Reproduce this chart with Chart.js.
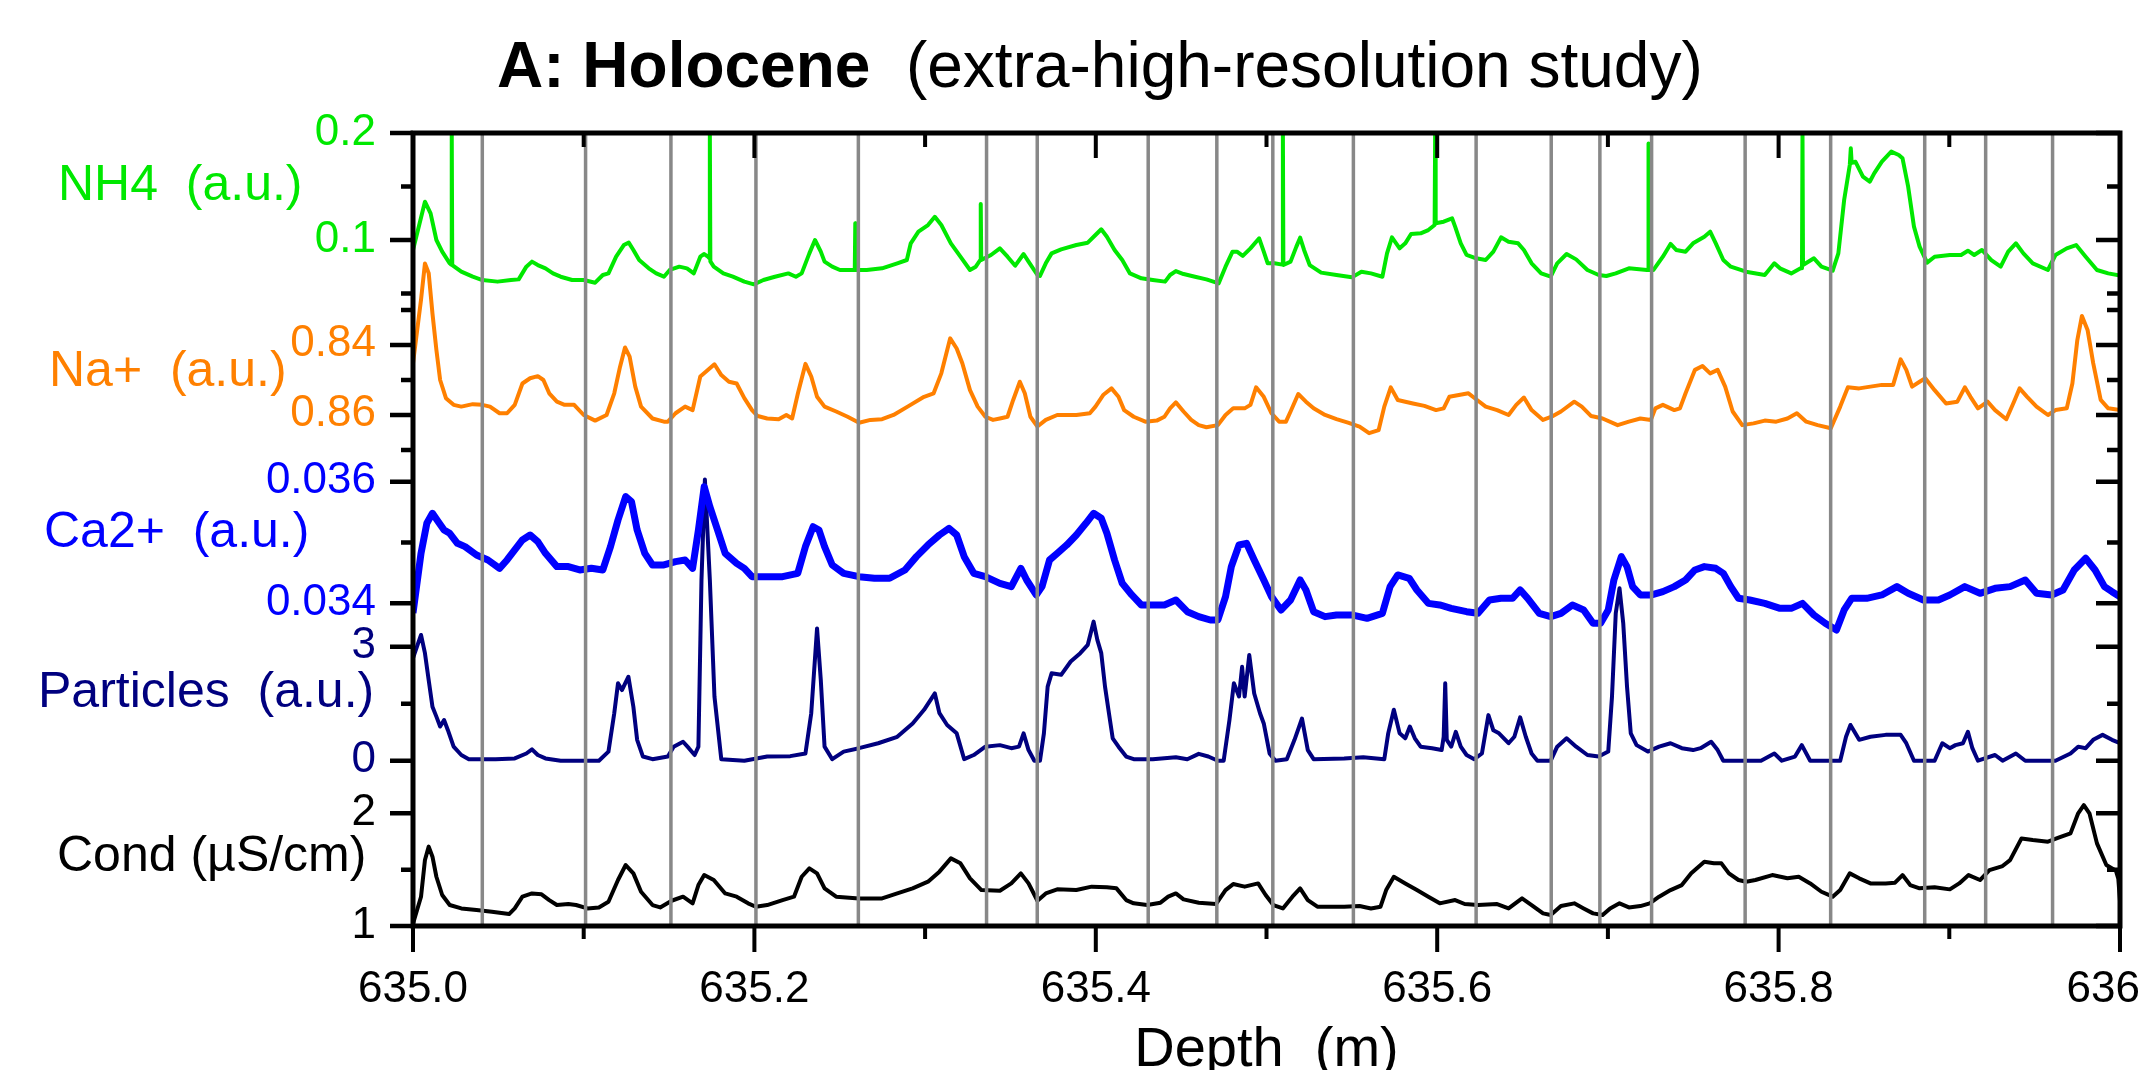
<!DOCTYPE html>
<html>
<head>
<meta charset="utf-8">
<script src="https://cdn.jsdelivr.net/npm/chart.js@4.4.0/dist/chart.umd.min.js"></script>
<style>
  html, body { margin: 0; padding: 0; background: #fff; }
</style>
</head>
<body>
<canvas id="chart" width="2142" height="1070"></canvas>
<script>
// depth (m), value pairs
const nh4 = [[635.0000,0.0907],[635.0070,0.1358],[635.0103,0.1249],[635.0137,0.1000],[635.0171,0.0891],[635.0215,0.0782],[635.0224,0.0770],[635.0227,0.2000],[635.0230,0.0766],[635.0283,0.0704],[635.0350,0.0657],[635.0406,0.0626],[635.0495,0.0611],[635.0574,0.0626],[635.0619,0.0632],[635.0664,0.0751],[635.0697,0.0798],[635.0731,0.0766],[635.0776,0.0735],[635.0820,0.0688],[635.0865,0.0657],[635.0932,0.0626],[635.1000,0.0626],[635.1067,0.0601],[635.1112,0.0673],[635.1145,0.0688],[635.1190,0.0844],[635.1235,0.0953],[635.1264,0.0975],[635.1291,0.0907],[635.1325,0.0813],[635.1381,0.0735],[635.1425,0.0688],[635.1470,0.0657],[635.1504,0.0720],[635.1560,0.0751],[635.1605,0.0735],[635.1645,0.0688],[635.1683,0.0844],[635.1706,0.0869],[635.1728,0.0844],[635.1736,0.0830],[635.1739,0.2000],[635.1742,0.0800],[635.1762,0.0751],[635.1818,0.0688],[635.1874,0.0657],[635.1941,0.0611],[635.1997,0.0586],[635.2053,0.0626],[635.2120,0.0657],[635.2199,0.0688],[635.2243,0.0657],[635.2277,0.0688],[635.2322,0.0875],[635.2355,0.1000],[635.2389,0.0891],[635.2411,0.0798],[635.2456,0.0751],[635.2501,0.0720],[635.2588,0.0720],[635.2591,0.1156],[635.2594,0.0720],[635.2658,0.0720],[635.2748,0.0735],[635.2837,0.0782],[635.2893,0.0813],[635.2916,0.0969],[635.2961,0.1078],[635.3017,0.1140],[635.3057,0.1217],[635.3095,0.1140],[635.3151,0.0969],[635.3207,0.0844],[635.3263,0.0720],[635.3297,0.0751],[635.3323,0.0813],[635.3326,0.1336],[635.3329,0.0813],[635.3386,0.0860],[635.3438,0.0922],[635.3483,0.0844],[635.3528,0.0760],[635.3577,0.0869],[635.3606,0.0798],[635.3658,0.0673],[635.3673,0.0664],[635.3707,0.0782],[635.3741,0.0875],[635.3797,0.0913],[635.3886,0.0953],[635.3953,0.0975],[635.3998,0.1047],[635.4032,0.1100],[635.4065,0.1031],[635.4110,0.0907],[635.4155,0.0813],[635.4200,0.0688],[635.4267,0.0642],[635.4334,0.0626],[635.4406,0.0611],[635.4435,0.0673],[635.4469,0.0710],[635.4514,0.0682],[635.4581,0.0657],[635.4648,0.0632],[635.4720,0.0595],[635.4760,0.0751],[635.4801,0.0891],[635.4827,0.0891],[635.4861,0.0851],[635.4906,0.0922],[635.4957,0.1016],[635.4984,0.0891],[635.5007,0.0782],[635.5047,0.0782],[635.5093,0.0770],[635.5096,0.2000],[635.5099,0.0766],[635.5141,0.0798],[635.5175,0.0938],[635.5197,0.1022],[635.5220,0.0907],[635.5253,0.0766],[635.5320,0.0695],[635.5410,0.0673],[635.5500,0.0651],[635.5556,0.0704],[635.5612,0.0688],[635.5679,0.0657],[635.5706,0.0875],[635.5735,0.1025],[635.5780,0.0922],[635.5813,0.0969],[635.5847,0.1056],[635.5903,0.1062],[635.5948,0.1093],[635.5985,0.1140],[635.5988,0.2000],[635.5991,0.1156],[635.6038,0.1171],[635.6087,0.1203],[635.6105,0.1125],[635.6138,0.0969],[635.6172,0.0860],[635.6228,0.0829],[635.6284,0.0813],[635.6329,0.0891],[635.6374,0.1025],[635.6418,0.0984],[635.6474,0.0969],[635.6508,0.0907],[635.6553,0.0782],[635.6609,0.0688],[635.6665,0.0657],[635.6703,0.0782],[635.6758,0.0869],[635.6814,0.0819],[635.6880,0.0720],[635.6946,0.0673],[635.6991,0.0664],[635.7046,0.0688],[635.7123,0.0735],[635.7229,0.0720],[635.7235,0.0720],[635.7238,0.1903],[635.7241,0.0720],[635.7267,0.0720],[635.7322,0.0844],[635.7367,0.0963],[635.7400,0.0907],[635.7455,0.0891],[635.7499,0.0969],[635.7565,0.1031],[635.7599,0.1078],[635.7632,0.0969],[635.7676,0.0813],[635.7720,0.0751],[635.7809,0.0704],[635.7919,0.0673],[635.7975,0.0782],[635.8008,0.0735],[635.8074,0.0688],[635.8129,0.0735],[635.8137,0.0735],[635.8140,0.2000],[635.8143,0.0766],[635.8207,0.0829],[635.8251,0.0751],[635.8317,0.0713],[635.8350,0.0875],[635.8384,0.1374],[635.8417,0.1701],[635.8423,0.1857],[635.8428,0.1720],[635.8450,0.1732],[635.8494,0.1592],[635.8534,0.1545],[635.8560,0.1623],[635.8605,0.1732],[635.8660,0.1826],[635.8704,0.1794],[635.8726,0.1763],[635.8759,0.1498],[635.8793,0.1125],[635.8826,0.0938],[635.8870,0.0788],[635.8914,0.0844],[635.9003,0.0860],[635.9069,0.0860],[635.9109,0.0900],[635.9146,0.0860],[635.9191,0.0907],[635.9246,0.0813],[635.9301,0.0751],[635.9345,0.0891],[635.9390,0.0969],[635.9434,0.0875],[635.9489,0.0782],[635.9578,0.0720],[635.9622,0.0860],[635.9688,0.0922],[635.9743,0.0953],[635.9799,0.0844],[635.9865,0.0720],[635.9931,0.0688],[636.0000,0.0667]];

const na = [[635.0000,0.8452],[635.0047,0.8271],[635.0070,0.8167],[635.0092,0.8195],[635.0114,0.8310],[635.0137,0.8414],[635.0159,0.8500],[635.0193,0.8552],[635.0238,0.8571],[635.0283,0.8576],[635.0350,0.8569],[635.0406,0.8571],[635.0451,0.8576],[635.0507,0.8595],[635.0551,0.8595],[635.0596,0.8571],[635.0641,0.8510],[635.0686,0.8495],[635.0731,0.8489],[635.0764,0.8500],[635.0798,0.8538],[635.0843,0.8562],[635.0888,0.8571],[635.0944,0.8571],[635.1000,0.8600],[635.1067,0.8616],[635.1134,0.8600],[635.1179,0.8538],[635.1213,0.8462],[635.1242,0.8407],[635.1269,0.8433],[635.1302,0.8519],[635.1336,0.8576],[635.1403,0.8610],[635.1470,0.8619],[635.1493,0.8619],[635.1538,0.8595],[635.1594,0.8576],[635.1638,0.8586],[635.1683,0.8490],[635.1717,0.8476],[635.1766,0.8455],[635.1806,0.8486],[635.1851,0.8505],[635.1896,0.8510],[635.1941,0.8552],[635.1986,0.8586],[635.2019,0.8603],[635.2075,0.8610],[635.2142,0.8612],[635.2187,0.8600],[635.2221,0.8610],[635.2255,0.8538],[635.2299,0.8454],[635.2333,0.8490],[635.2367,0.8548],[635.2411,0.8576],[635.2479,0.8590],[635.2546,0.8605],[635.2613,0.8622],[635.2680,0.8614],[635.2748,0.8612],[635.2815,0.8600],[635.2905,0.8574],[635.2994,0.8548],[635.3050,0.8538],[635.3095,0.8481],[635.3147,0.8381],[635.3185,0.8410],[635.3218,0.8452],[635.3263,0.8529],[635.3308,0.8576],[635.3353,0.8605],[635.3398,0.8614],[635.3438,0.8610],[635.3483,0.8605],[635.3516,0.8557],[635.3555,0.8505],[635.3584,0.8538],[635.3617,0.8605],[635.3658,0.8633],[635.3707,0.8614],[635.3774,0.8600],[635.3886,0.8600],[635.3965,0.8595],[635.3998,0.8576],[635.4043,0.8543],[635.4092,0.8524],[635.4133,0.8548],[635.4166,0.8586],[635.4222,0.8605],[635.4290,0.8619],[635.4357,0.8616],[635.4402,0.8605],[635.4435,0.8581],[635.4469,0.8564],[635.4514,0.8590],[635.4559,0.8614],[635.4603,0.8629],[635.4648,0.8635],[635.4715,0.8629],[635.4760,0.8600],[635.4805,0.8581],[635.4872,0.8581],[635.4906,0.8571],[635.4939,0.8521],[635.4984,0.8548],[635.5029,0.8595],[635.5074,0.8619],[635.5114,0.8619],[635.5141,0.8590],[635.5186,0.8540],[635.5231,0.8562],[635.5276,0.8581],[635.5343,0.8600],[635.5410,0.8612],[635.5477,0.8622],[635.5545,0.8633],[635.5601,0.8652],[635.5657,0.8643],[635.5690,0.8576],[635.5728,0.8521],[635.5769,0.8557],[635.5813,0.8562],[635.5858,0.8567],[635.5925,0.8574],[635.5993,0.8586],[635.6038,0.8581],[635.6071,0.8548],[635.6127,0.8543],[635.6183,0.8538],[635.6228,0.8555],[635.6284,0.8576],[635.6351,0.8586],[635.6418,0.8600],[635.6463,0.8571],[635.6508,0.8550],[635.6553,0.8586],[635.6620,0.8614],[635.6670,0.8605],[635.6725,0.8590],[635.6803,0.8562],[635.6847,0.8576],[635.6902,0.8603],[635.6969,0.8610],[635.7057,0.8629],[635.7123,0.8619],[635.7190,0.8610],[635.7252,0.8614],[635.7278,0.8581],[635.7322,0.8571],[635.7389,0.8586],[635.7422,0.8581],[635.7455,0.8538],[635.7510,0.8471],[635.7554,0.8460],[635.7599,0.8481],[635.7643,0.8471],[635.7687,0.8519],[635.7731,0.8590],[635.7787,0.8629],[635.7853,0.8624],[635.7919,0.8616],[635.7986,0.8619],[635.8052,0.8610],[635.8107,0.8595],[635.8162,0.8619],[635.8229,0.8629],[635.8306,0.8638],[635.8361,0.8576],[635.8406,0.8521],[635.8472,0.8524],[635.8538,0.8519],[635.8605,0.8514],[635.8671,0.8514],[635.8715,0.8441],[635.8748,0.8471],[635.8782,0.8519],[635.8826,0.8505],[635.8859,0.8495],[635.8914,0.8529],[635.8981,0.8567],[635.9047,0.8562],[635.9091,0.8521],[635.9124,0.8548],[635.9168,0.8581],[635.9224,0.8562],[635.9268,0.8586],[635.9334,0.8612],[635.9379,0.8562],[635.9412,0.8524],[635.9456,0.8548],[635.9511,0.8576],[635.9578,0.8600],[635.9622,0.8586],[635.9688,0.8581],[635.9721,0.8510],[635.9750,0.8386],[635.9777,0.8317],[635.9810,0.8357],[635.9843,0.8452],[635.9887,0.8557],[635.9931,0.8581],[636.0000,0.8586]];

const ca = [[635.0000,0.03384],[635.0047,0.034822],[635.0081,0.035315],[635.0114,0.035480],[635.0148,0.035343],[635.0182,0.035206],[635.0215,0.035151],[635.0260,0.034986],[635.0305,0.034932],[635.0372,0.034794],[635.0439,0.034712],[635.0507,0.034575],[635.0551,0.034712],[635.0596,0.034877],[635.0641,0.035041],[635.0686,0.035123],[635.0731,0.035014],[635.0776,0.034822],[635.0843,0.034603],[635.0910,0.034603],[635.0977,0.034548],[635.1045,0.034575],[635.1112,0.034548],[635.1157,0.034932],[635.1201,0.035370],[635.1246,0.035754],[635.1280,0.035672],[635.1313,0.035206],[635.1358,0.034822],[635.1403,0.034630],[635.1470,0.034630],[635.1538,0.034685],[635.1594,0.034712],[635.1638,0.034575],[635.1672,0.035206],[635.1706,0.035918],[635.1739,0.035589],[635.1784,0.035206],[635.1829,0.034822],[635.1896,0.034657],[635.1941,0.034575],[635.1986,0.034438],[635.2075,0.034438],[635.2165,0.034438],[635.2254,0.034493],[635.2299,0.034932],[635.2344,0.035260],[635.2378,0.035206],[635.2411,0.034932],[635.2456,0.034630],[635.2523,0.034493],[635.2613,0.034438],[635.2703,0.034411],[635.2792,0.034411],[635.2882,0.034548],[635.2949,0.034767],[635.3017,0.034959],[635.3084,0.035123],[635.3140,0.035233],[635.3185,0.035123],[635.3229,0.034767],[635.3285,0.034493],[635.3353,0.034438],[635.3438,0.034328],[635.3505,0.034274],[635.3561,0.034575],[635.3595,0.034383],[635.3651,0.034137],[635.3685,0.034274],[635.3729,0.034712],[635.3774,0.034822],[635.3830,0.034959],[635.3886,0.035123],[635.3942,0.035315],[635.3987,0.035480],[635.4032,0.035398],[635.4065,0.035151],[635.4110,0.034712],[635.4155,0.034328],[635.4211,0.034137],[635.4267,0.033972],[635.4334,0.033972],[635.4402,0.033972],[635.4469,0.034054],[635.4536,0.033862],[635.4603,0.033780],[635.4671,0.033725],[635.4715,0.033725],[635.4760,0.034109],[635.4794,0.034603],[635.4839,0.034959],[635.4883,0.034986],[635.4928,0.034712],[635.4984,0.034383],[635.5029,0.034109],[635.5085,0.033890],[635.5141,0.034054],[635.5197,0.034383],[635.5231,0.034219],[635.5276,0.033862],[635.5343,0.033780],[635.5410,0.033808],[635.5500,0.033808],[635.5589,0.033753],[635.5679,0.033835],[635.5724,0.034274],[635.5769,0.034466],[635.5836,0.034411],[635.5881,0.034219],[635.5948,0.033999],[635.6015,0.033972],[635.6082,0.033917],[635.6172,0.033862],[635.6239,0.033835],[635.6306,0.034054],[635.6374,0.034082],[635.6441,0.034082],[635.6486,0.034219],[635.6530,0.034082],[635.6598,0.033835],[635.6665,0.033780],[635.6725,0.033835],[635.6792,0.033972],[635.6858,0.033890],[635.6913,0.033671],[635.6957,0.033671],[635.7002,0.033890],[635.7035,0.034383],[635.7079,0.034767],[635.7112,0.034603],[635.7145,0.034274],[635.7190,0.034137],[635.7256,0.034137],[635.7322,0.034191],[635.7389,0.034274],[635.7455,0.034383],[635.7510,0.034548],[635.7565,0.034603],[635.7632,0.034575],[635.7676,0.034493],[635.7720,0.034274],[635.7765,0.034082],[635.7831,0.034054],[635.7919,0.033999],[635.8008,0.033917],[635.8074,0.033917],[635.8140,0.033999],[635.8207,0.033808],[635.8273,0.033671],[635.8339,0.033561],[635.8384,0.033890],[635.8428,0.034082],[635.8516,0.034082],[635.8605,0.034137],[635.8693,0.034274],[635.8759,0.034164],[635.8848,0.034054],[635.8936,0.034054],[635.9003,0.034137],[635.9091,0.034274],[635.9180,0.034164],[635.9268,0.034246],[635.9356,0.034274],[635.9445,0.034383],[635.9511,0.034164],[635.9600,0.034137],[635.9666,0.034219],[635.9732,0.034548],[635.9799,0.034740],[635.9854,0.034548],[635.9909,0.034274],[635.9953,0.034191],[636.0000,0.034109]];

const particles = [[635.0000,2.70],[635.0047,3.31],[635.0070,2.83],[635.0092,2.12],[635.0114,1.42],[635.0137,1.16],[635.0159,0.90],[635.0182,1.07],[635.0204,0.81],[635.0238,0.37],[635.0283,0.15],[635.0327,0.04],[635.0484,0.04],[635.0596,0.06],[635.0664,0.19],[635.0697,0.30],[635.0731,0.15],[635.0776,0.06],[635.0865,0.00],[635.1089,0.00],[635.1145,0.24],[635.1179,1.25],[635.1201,2.04],[635.1224,1.86],[635.1262,2.21],[635.1291,1.42],[635.1313,0.55],[635.1347,0.11],[635.1403,0.04],[635.1493,0.11],[635.1527,0.37],[635.1582,0.50],[635.1616,0.33],[635.1650,0.15],[635.1672,0.37],[635.1690,4.76],[635.1710,7.40],[635.1739,4.76],[635.1766,1.69],[635.1806,0.04],[635.1941,0.00],[635.2075,0.11],[635.2210,0.12],[635.2299,0.19],[635.2333,1.25],[635.2367,3.48],[635.2389,2.12],[635.2411,0.37],[635.2456,0.04],[635.2523,0.24],[635.2613,0.33],[635.2725,0.46],[635.2837,0.63],[635.2927,0.98],[635.2994,1.34],[635.3057,1.77],[635.3084,1.25],[635.3129,0.94],[635.3185,0.72],[635.3229,0.04],[635.3285,0.15],[635.3353,0.37],[635.3438,0.41],[635.3505,0.33],[635.3550,0.37],[635.3577,0.72],[635.3606,0.28],[635.3640,0.00],[635.3673,0.00],[635.3696,0.72],[635.3718,1.95],[635.3741,2.30],[635.3797,2.26],[635.3853,2.61],[635.3909,2.83],[635.3953,3.05],[635.3987,3.66],[635.4009,3.18],[635.4032,2.83],[635.4054,1.95],[635.4077,1.25],[635.4099,0.59],[635.4133,0.37],[635.4178,0.11],[635.4222,0.04],[635.4334,0.04],[635.4469,0.09],[635.4536,0.04],[635.4603,0.18],[635.4659,0.11],[635.4715,0.00],[635.4749,0.00],[635.4783,1.07],[635.4809,2.04],[635.4839,1.69],[635.4857,2.47],[635.4872,1.69],[635.4899,2.78],[635.4928,1.77],[635.4962,1.25],[635.4984,0.98],[635.5018,0.19],[635.5052,0.00],[635.5119,0.04],[635.5164,0.55],[635.5208,1.11],[635.5242,0.28],[635.5276,0.04],[635.5455,0.06],[635.5567,0.09],[635.5690,0.04],[635.5713,0.72],[635.5746,1.34],[635.5780,0.72],[635.5813,0.59],[635.5840,0.90],[635.5869,0.59],[635.5903,0.37],[635.5970,0.33],[635.6026,0.28],[635.6038,0.63],[635.6047,2.04],[635.6056,0.55],[635.6082,0.37],[635.6109,0.76],[635.6138,0.37],[635.6172,0.15],[635.6217,0.04],[635.6262,0.19],[635.6300,1.20],[635.6329,0.80],[635.6362,0.72],[635.6418,0.46],[635.6452,0.63],[635.6486,1.14],[635.6519,0.63],[635.6553,0.19],[635.6587,0.00],[635.6665,0.00],[635.6703,0.37],[635.6758,0.59],[635.6814,0.37],[635.6880,0.15],[635.6946,0.11],[635.7002,0.24],[635.7024,1.69],[635.7046,3.88],[635.7068,4.54],[635.7090,3.61],[635.7112,1.95],[635.7134,0.72],[635.7168,0.41],[635.7234,0.24],[635.7300,0.37],[635.7367,0.46],[635.7433,0.33],[635.7499,0.28],[635.7543,0.33],[635.7605,0.50],[635.7643,0.28],[635.7676,0.00],[635.7897,0.00],[635.7975,0.19],[635.8019,0.00],[635.8096,0.11],[635.8136,0.41],[635.8185,0.00],[635.8361,0.00],[635.8395,0.63],[635.8421,0.94],[635.8472,0.55],[635.8538,0.63],[635.8627,0.68],[635.8715,0.68],[635.8748,0.46],[635.8793,0.00],[635.8914,0.00],[635.8959,0.46],[635.9003,0.33],[635.9036,0.41],[635.9080,0.46],[635.9109,0.76],[635.9135,0.33],[635.9168,0.00],[635.9268,0.15],[635.9312,0.00],[635.9390,0.19],[635.9445,0.00],[635.9622,0.00],[635.9710,0.19],[635.9755,0.37],[635.9799,0.33],[635.9843,0.55],[635.9898,0.68],[635.9953,0.55],[636.0000,0.46]];

const cond = [[635.0000,1.02],[635.0047,1.260],[635.0070,1.585],[635.0092,1.704],[635.0114,1.615],[635.0137,1.437],[635.0171,1.275],[635.0215,1.186],[635.0283,1.156],[635.0372,1.142],[635.0462,1.127],[635.0563,1.106],[635.0596,1.156],[635.0641,1.260],[635.0697,1.289],[635.0753,1.281],[635.0798,1.230],[635.0843,1.186],[635.0910,1.195],[635.0955,1.186],[635.1022,1.156],[635.1089,1.165],[635.1145,1.215],[635.1201,1.408],[635.1246,1.541],[635.1291,1.467],[635.1336,1.304],[635.1403,1.186],[635.1448,1.165],[635.1515,1.224],[635.1582,1.260],[635.1638,1.201],[635.1672,1.363],[635.1706,1.452],[635.1762,1.408],[635.1829,1.289],[635.1896,1.260],[635.1963,1.201],[635.2008,1.171],[635.2075,1.186],[635.2165,1.230],[635.2232,1.260],[635.2277,1.437],[635.2322,1.511],[635.2367,1.467],[635.2411,1.334],[635.2479,1.260],[635.2613,1.245],[635.2748,1.245],[635.2837,1.289],[635.2927,1.334],[635.3017,1.393],[635.3084,1.482],[635.3151,1.600],[635.3207,1.556],[635.3263,1.423],[635.3330,1.319],[635.3438,1.313],[635.3505,1.378],[635.3561,1.467],[635.3606,1.378],[635.3658,1.224],[635.3707,1.289],[635.3774,1.325],[635.3886,1.319],[635.3976,1.349],[635.4065,1.343],[635.4121,1.334],[635.4178,1.230],[635.4222,1.201],[635.4301,1.186],[635.4379,1.207],[635.4424,1.260],[635.4469,1.289],[635.4514,1.236],[635.4603,1.207],[635.4704,1.195],[635.4760,1.319],[635.4805,1.372],[635.4872,1.349],[635.4951,1.378],[635.4995,1.275],[635.5040,1.186],[635.5096,1.156],[635.5152,1.260],[635.5197,1.334],[635.5242,1.230],[635.5298,1.171],[635.5455,1.171],[635.5545,1.177],[635.5612,1.156],[635.5668,1.171],[635.5701,1.319],[635.5746,1.437],[635.5813,1.378],[635.5881,1.319],[635.5948,1.260],[635.6015,1.201],[635.6105,1.230],[635.6161,1.195],[635.6239,1.186],[635.6351,1.195],[635.6418,1.156],[635.6497,1.245],[635.6553,1.186],[635.6620,1.112],[635.6665,1.097],[635.6725,1.177],[635.6803,1.201],[635.6858,1.156],[635.6913,1.112],[635.6969,1.097],[635.7013,1.156],[635.7068,1.201],[635.7123,1.165],[635.7190,1.177],[635.7245,1.201],[635.7300,1.260],[635.7367,1.319],[635.7433,1.363],[635.7488,1.467],[635.7565,1.570],[635.7621,1.556],[635.7665,1.556],[635.7709,1.467],[635.7765,1.408],[635.7809,1.393],[635.7864,1.408],[635.7963,1.452],[635.8052,1.423],[635.8118,1.437],[635.8185,1.378],[635.8251,1.304],[635.8317,1.260],[635.8361,1.319],[635.8417,1.467],[635.8472,1.423],[635.8538,1.378],[635.8627,1.378],[635.8682,1.384],[635.8726,1.452],[635.8771,1.363],[635.8826,1.334],[635.8914,1.343],[635.9003,1.325],[635.9058,1.378],[635.9113,1.452],[635.9180,1.408],[635.9235,1.496],[635.9312,1.532],[635.9356,1.585],[635.9423,1.777],[635.9489,1.763],[635.9578,1.748],[635.9644,1.786],[635.9710,1.822],[635.9755,2.000],[635.9788,2.073],[635.9821,2.000],[635.9865,1.733],[635.9920,1.541],[635.9976,1.491],[635.9990,1.420],[636.0000,1.220]];

// annual layer markers (grey verticals)
const layerDepths = [635.0406, 635.1011, 635.1511, 635.2009, 635.2609, 635.3360, 635.3657, 635.4307, 635.4709, 635.5037, 635.5509, 635.6228, 635.6668, 635.6953, 635.7256, 635.7804, 635.8305, 635.8856, 635.9213, 635.9605];

// axis ticks
const depthTicks = [635.0, 635.1, 635.2, 635.3, 635.4, 635.5, 635.6, 635.7, 635.8, 635.9, 636.0];
const depthLabels = ['635.0', '', '635.2', '', '635.4', '', '635.6', '', '635.8', '', '636'];
const nh4Ticks = [0.2, 0.15, 0.1, 0.05];
const nh4Labels = ['0.2', '', '0.1', ''];
const naTicks = [0.83, 0.84, 0.85, 0.86, 0.87];
const naLabels = ['', '0.84', '', '0.86', ''];
const caTicks = [0.036, 0.035, 0.034];
const caLabels = ['0.036', '', '0.034'];
const partTicks = [3, 1.5, 0];
const partLabels = ['3', '', '0'];
const condTicks = [2, 1.5, 1];
const condLabels = ['2', '', '1'];

const FONT = '"Liberation Sans", Arial, Helvetica, sans-serif';
const GREEN = '#00e800', ORANGE = '#ff8000', BLUE = '#0000ff', NAVY = '#00007f', BLACK = '#000000';

function pts(list) {
    return list.map(p => ({x: p[0], y: p[1]}));
}

function markerPoints() {
    const out = [];
    layerDepths.forEach(d => {
        out.push({x: d, y: 0}, {x: d, y: 1}, {x: d, y: null});
    });
    return out;
}

const axisDecor = {
    id: 'axisDecor',
    afterDraw(chart) {
        const {ctx, chartArea: a, scales} = chart;
        ctx.save();

        // frame
        ctx.strokeStyle = '#000';
        ctx.lineWidth = 5;
        ctx.strokeRect(a.left, a.top, a.right - a.left, a.bottom - a.top);

        // depth ticks, top (inward) and bottom (outward)
        ctx.lineWidth = 4;
        depthTicks.forEach((d, i) => {
            const px = scales.x.getPixelForValue(d);
            const major = depthLabels[i] !== '';
            ctx.beginPath();
            ctx.moveTo(px, a.bottom);
            ctx.lineTo(px, a.bottom + (major ? 26 : 13));
            ctx.moveTo(px, a.top);
            ctx.lineTo(px, a.top + (major ? 25 : 14));
            ctx.stroke();
        });

        ctx.fillStyle = '#000';
        ctx.font = '44px ' + FONT;
        ctx.textBaseline = 'alphabetic';
        depthTicks.forEach((d, i) => {
            if (!depthLabels[i]) return;
            const px = scales.x.getPixelForValue(d);
            if (i === depthTicks.length - 1) {
                ctx.textAlign = 'right';
                ctx.fillText(depthLabels[i], 2140, a.bottom + 76);
            } else {
                ctx.textAlign = 'center';
                ctx.fillText(depthLabels[i], px, a.bottom + 76);
            }
        });
        ctx.font = '56px ' + FONT;
        ctx.textAlign = 'center';
        ctx.fillText('Depth  (m)', (a.left + a.right) / 2, 1066);

        // y ticks for each record
        const groups = [
            ['yNH4', nh4Ticks, nh4Labels, GREEN],
            ['yNa', naTicks, naLabels, ORANGE],
            ['yCa', caTicks, caLabels, BLUE],
            ['yPart', partTicks, partLabels, NAVY],
            ['yCond', condTicks, condLabels, BLACK]
        ];
        groups.forEach(([id, ticks, labels, color]) => {
            const sc = scales[id];
            ticks.forEach((v, i) => {
                const py = sc.getPixelForValue(v);
                const major = labels[i] !== '';
                ctx.strokeStyle = '#000';
                ctx.lineWidth = 4.5;
                ctx.beginPath();
                ctx.moveTo(a.left - (major ? 23 : 12), py);
                ctx.lineTo(a.left, py);
                ctx.moveTo(a.right, py);
                ctx.lineTo(a.right - (major ? 24 : 13), py);
                ctx.stroke();
                if (major) {
                    ctx.fillStyle = color;
                    ctx.font = '44px ' + FONT;
                    ctx.textAlign = 'right';
                    ctx.fillText(labels[i], 376, py + 11.5);
                }
            });
        });

        // record names
        ctx.font = '50px ' + FONT;
        ctx.textAlign = 'left';
        ctx.textBaseline = 'middle';
        const names = [
            ['NH4  (a.u.)', 58, 186, GREEN],
            ['Na+  (a.u.)', 49, 372, ORANGE],
            ['Ca2+  (a.u.)', 44, 533, BLUE],
            ['Particles  (a.u.)', 38, 693, NAVY],
            ['Cond (\u00b5S/cm)', 57, 857, BLACK]
        ];
        names.forEach(([t, x, y, c]) => {
            ctx.fillStyle = c;
            ctx.fillText(t, x, y);
        });

        // title
        ctx.textBaseline = 'alphabetic';
        ctx.fillStyle = '#000';
        ctx.font = 'bold 64px ' + FONT;
        ctx.fillText('A: Holocene', 497, 87);
        const w = ctx.measureText('A: Holocene').width;
        ctx.font = '64px ' + FONT;
        ctx.fillText('  (extra-high-resolution study)', 497 + w, 87);

        ctx.restore();
    }
};

const lineStyle = {
    pointRadius: 0,
    tension: 0,
    fill: false,
    borderJoinStyle: 'round',
    spanGaps: false
};

new Chart(document.getElementById('chart'), {
    type: 'line',
    data: {
        datasets: [
            Object.assign({label: 'layers', data: markerPoints(), yAxisID: 'yMark', borderColor: '#888888', borderWidth: 3.5, order: 0}, lineStyle),
            Object.assign({label: 'NH4', data: pts(nh4), yAxisID: 'yNH4', borderColor: GREEN, borderWidth: 4, order: 1}, lineStyle),
            Object.assign({label: 'Na+', data: pts(na), yAxisID: 'yNa', borderColor: ORANGE, borderWidth: 4, order: 2}, lineStyle),
            Object.assign({label: 'Ca2+', data: pts(ca), yAxisID: 'yCa', borderColor: BLUE, borderWidth: 7, order: 3}, lineStyle),
            Object.assign({label: 'Particles', data: pts(particles), yAxisID: 'yPart', borderColor: NAVY, borderWidth: 4, order: 4}, lineStyle),
            Object.assign({label: 'Cond', data: pts(cond), yAxisID: 'yCond', borderColor: BLACK, borderWidth: 4, order: 5}, lineStyle)
        ]
    },
    options: {
        responsive: false,
        animation: false,
        devicePixelRatio: 1,
        layout: {padding: {left: 413, right: 22, top: 133, bottom: 144}},
        plugins: {legend: {display: false}, tooltip: {enabled: false}},
        scales: {
            x: {type: 'linear', min: 635, max: 636, display: false},
            yMark: {type: 'linear', min: 0, max: 1, display: false},
            yNH4: {type: 'linear', min: -0.5411, max: 0.2, display: false},
            yNa: {type: 'linear', min: 0.77943, max: 1.006, reverse: true, display: false},
            yCa: {type: 'linear', min: 0.028692, max: 0.041735, display: false},
            yPart: {type: 'linear', min: -4.35, max: 16.52, display: false},
            yCond: {type: 'linear', min: 1, max: 8.036, display: false}
        }
    },
    plugins: [axisDecor]
});
</script>
</body>
</html>
